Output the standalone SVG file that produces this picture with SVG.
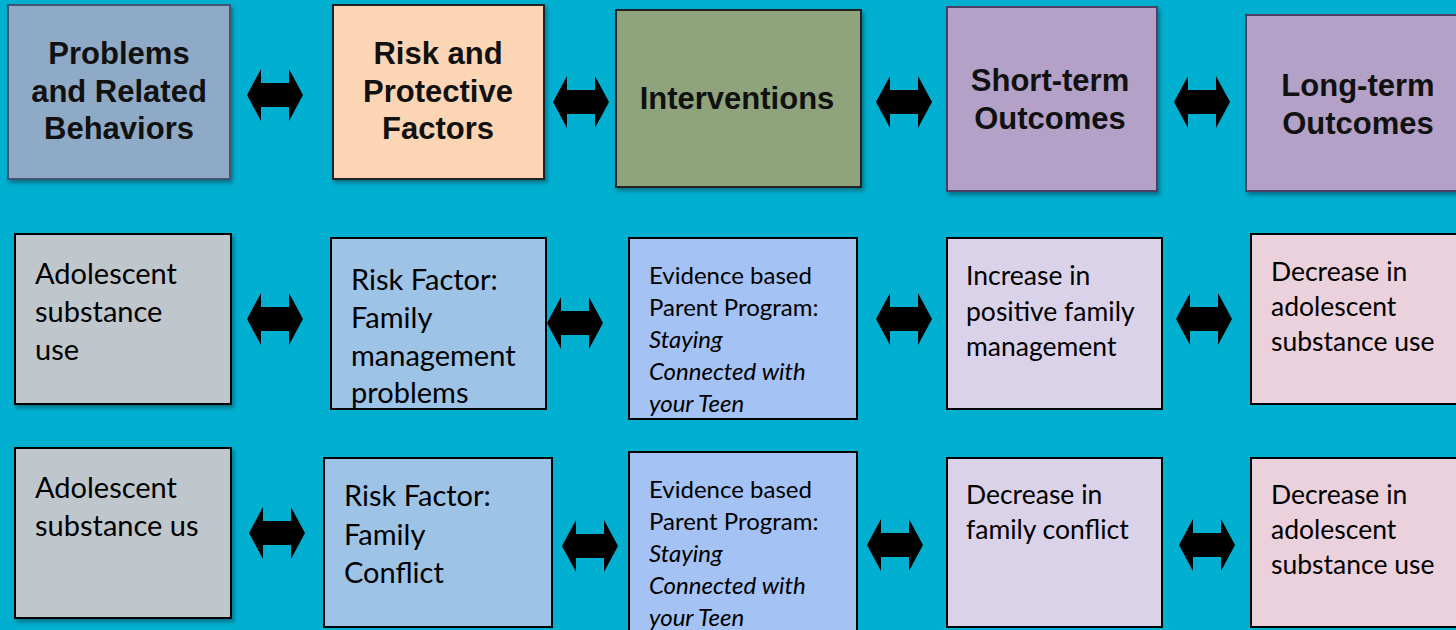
<svg xmlns="http://www.w3.org/2000/svg" xmlns:xlink="http://www.w3.org/1999/xlink" width="1456" height="630" viewBox="0 0 1456 630">
<defs>
<style>
.hdr{font-family:"Liberation Sans",Arial,sans-serif;font-weight:bold;font-size:31px;fill:#111;text-anchor:middle}
.t1{font-family:Lato,"Open Sans",sans-serif;font-size:29px;fill:#000}
.t2{font-family:Lato,"Open Sans",sans-serif;font-size:26.5px;fill:#000}
.t3{font-family:Lato,"Open Sans",sans-serif;font-size:24px;fill:#000}
.it{font-style:italic}
.box{stroke:#000;stroke-width:2}
</style>
<filter id="sh" x="-10%" y="-10%" width="130%" height="130%">
<feDropShadow dx="2" dy="3" stdDeviation="2" flood-color="#000" flood-opacity="0.35"/>
</filter>
<path id="dbl" d="M-28,0 L-14,-26 L-14,-12 L14,-12 L14,-26 L28,0 L14,26 L14,12 L-14,12 L-14,26 Z" fill="#000"/>
</defs>
<rect width="1456" height="630" fill="#01AFD1"/>

<g id="connectors">
<use xlink:href="#dbl" transform="translate(275,95)"/>
<use xlink:href="#dbl" transform="translate(581,102)"/>
<use xlink:href="#dbl" transform="translate(904,102)"/>
<use xlink:href="#dbl" transform="translate(1202,102)"/>
<use xlink:href="#dbl" transform="translate(275,319)"/>
<use xlink:href="#dbl" transform="translate(575,323)"/>
<use xlink:href="#dbl" transform="translate(904,319)"/>
<use xlink:href="#dbl" transform="translate(1204,319)"/>
<use xlink:href="#dbl" transform="translate(277,533)"/>
<use xlink:href="#dbl" transform="translate(590,546)"/>
<use xlink:href="#dbl" transform="translate(895,545)"/>
<use xlink:href="#dbl" transform="translate(1207,545)"/>
</g>

<g id="h-problems">
<rect x="8" y="5" width="222" height="174" fill="#8EAAC7" stroke="#3F5572" stroke-width="2" filter="url(#sh)"/>
<text class="hdr" x="119" y="64">Problems</text>
<text class="hdr" x="119" y="102">and Related</text>
<text class="hdr" x="119" y="139">Behaviors</text>
</g>
<g id="h-risk">
<rect x="333" y="5" width="211" height="174" fill="#FCD5B4" stroke="#222" stroke-width="2" filter="url(#sh)"/>
<text class="hdr" x="438" y="64">Risk and</text>
<text class="hdr" x="438" y="102">Protective</text>
<text class="hdr" x="438" y="139">Factors</text>
</g>
<g id="h-interventions">
<rect x="616" y="10" width="245" height="177" fill="#8FA37D" stroke="#222" stroke-width="2" filter="url(#sh)"/>
<text class="hdr" x="737" y="109">Interventions</text>
</g>
<g id="h-short">
<rect x="947" y="7" width="210" height="184" fill="#B3A1C7" stroke="#4A3F66" stroke-width="2" filter="url(#sh)"/>
<text class="hdr" x="1050" y="91">Short-term</text>
<text class="hdr" x="1050" y="129">Outcomes</text>
</g>
<g id="h-long">
<rect x="1246" y="15" width="214" height="176" fill="#B3A1C7" stroke="#4A3F66" stroke-width="2" filter="url(#sh)"/>
<text class="hdr" x="1358" y="96">Long-term</text>
<text class="hdr" x="1358" y="134">Outcomes</text>
</g>

<g id="m-problem">
<rect class="box" x="15" y="234" width="216" height="170" fill="#BFC7CC" filter="url(#sh)"/>
<text class="t1" x="35" y="284">Adolescent</text>
<text class="t1" x="35" y="322">substance</text>
<text class="t1" x="35" y="360">use</text>
</g>
<g id="m-risk">
<rect class="box" x="331" y="238" width="215" height="171" fill="#9DC3E6"/>
<text class="t1" x="351" y="290">Risk Factor:</text>
<text class="t1" x="351" y="328">Family</text>
<text class="t1" x="351" y="366">management</text>
<text class="t1" x="351" y="403">problems</text>
</g>
<g id="m-intervention">
<rect class="box" x="629" y="238" width="228" height="181" fill="#A4C2F4"/>
<text class="t3" x="649" y="284">Evidence based</text>
<text class="t3" x="649" y="316">Parent Program:</text>
<text class="t3 it" x="649" y="348">Staying</text>
<text class="t3 it" x="649" y="380">Connected with</text>
<text class="t3 it" x="649" y="412">your Teen</text>
</g>
<g id="m-short">
<rect class="box" x="947" y="238" width="215" height="171" fill="#DAD2E9"/>
<text class="t2" x="966" y="285">Increase in</text>
<text class="t2" x="966" y="321">positive family</text>
<text class="t2" x="966" y="356">management</text>
</g>
<g id="m-long">
<rect class="box" x="1251" y="234" width="212" height="170" fill="#EAD1DC"/>
<text class="t2" x="1271" y="281">Decrease in</text>
<text class="t2" x="1271" y="316">adolescent</text>
<text class="t2" x="1271" y="351">substance use</text>
</g>

<g id="l-problem">
<rect class="box" x="15" y="448" width="216" height="170" fill="#BFC7CC" filter="url(#sh)"/>
<text class="t1" x="35" y="498">Adolescent</text>
<text class="t1" x="35" y="536">substance us</text>
</g>
<g id="l-risk">
<rect class="box" x="324" y="458" width="228" height="169" fill="#9DC3E6"/>
<text class="t1" x="344" y="506">Risk Factor:</text>
<text class="t1" x="344" y="545">Family</text>
<text class="t1" x="344" y="583">Conflict</text>
</g>
<g id="l-intervention">
<rect class="box" x="629" y="452" width="228" height="190" fill="#A4C2F4"/>
<text class="t3" x="649" y="498">Evidence based</text>
<text class="t3" x="649" y="530">Parent Program:</text>
<text class="t3 it" x="649" y="562">Staying</text>
<text class="t3 it" x="649" y="594">Connected with</text>
<text class="t3 it" x="649" y="626">your Teen</text>
</g>
<g id="l-short">
<rect class="box" x="947" y="458" width="215" height="169" fill="#DAD2E9"/>
<text class="t2" x="966" y="504">Decrease in</text>
<text class="t2" x="966" y="539">family conflict</text>
</g>
<g id="l-long">
<rect class="box" x="1251" y="458" width="212" height="169" fill="#EAD1DC"/>
<text class="t2" x="1271" y="504">Decrease in</text>
<text class="t2" x="1271" y="539">adolescent</text>
<text class="t2" x="1271" y="574">substance use</text>
</g>
</svg>
